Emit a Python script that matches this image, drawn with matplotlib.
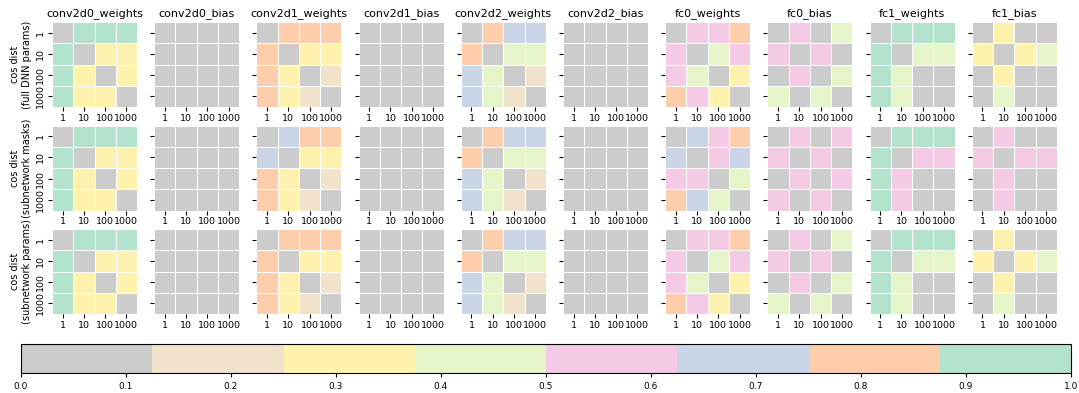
import numpy as np
import matplotlib
matplotlib.use("Agg")
import matplotlib.pyplot as plt
from matplotlib.colors import ListedColormap

layers = ["conv2d0_weights", "conv2d0_bias", "conv2d1_weights", "conv2d1_bias",
          "conv2d2_weights", "conv2d2_bias", "fc0_weights", "fc0_bias",
          "fc1_weights", "fc1_bias"]
row_labels = ["cos dist\n(full DNN params)", "cos dist\n(subnetwork masks)",
              "cos dist\n(subnetwork params)"]
tick_labels = ["1", "10", "100", "1000"]

zeros4 = [[0.0, 0.05, 0.05, 0.05], [0.05, 0.0, 0.05, 0.05],
          [0.05, 0.05, 0.0, 0.05], [0.05, 0.05, 0.05, 0.0]]

# row 0: full DNN params
full_conv2d0_w = [[0.0, 0.94, 0.94, 0.94], [0.94, 0.0, 0.31, 0.31], [0.94, 0.31, 0.0, 0.31], [0.94, 0.31, 0.31, 0.0]]
full_conv2d1_w = [[0.0, 0.81, 0.81, 0.81], [0.81, 0.0, 0.31, 0.31], [0.81, 0.31, 0.0, 0.19], [0.81, 0.31, 0.19, 0.0]]
full_conv2d2_w = [[0.0, 0.81, 0.69, 0.69], [0.81, 0.0, 0.44, 0.44], [0.69, 0.44, 0.0, 0.19], [0.69, 0.44, 0.19, 0.0]]
full_fc0_w = [[0.0, 0.56, 0.56, 0.81], [0.56, 0.0, 0.44, 0.56], [0.56, 0.44, 0.0, 0.31], [0.81, 0.56, 0.31, 0.0]]
full_fc0_b = [[0.0, 0.56, 0.08, 0.44], [0.56, 0.0, 0.56, 0.08], [0.08, 0.56, 0.0, 0.44], [0.44, 0.08, 0.44, 0.0]]
full_fc1_w = [[0.0, 0.94, 0.94, 0.94], [0.94, 0.0, 0.44, 0.44], [0.94, 0.44, 0.0, 0.08], [0.94, 0.44, 0.08, 0.0]]
full_fc1_b = [[0.0, 0.31, 0.08, 0.08], [0.31, 0.0, 0.31, 0.44], [0.08, 0.31, 0.0, 0.08], [0.08, 0.44, 0.08, 0.0]]

# row 1: subnetwork masks
mask_conv2d0_w = [[0.0, 0.94, 0.94, 0.94], [0.94, 0.0, 0.31, 0.31], [0.94, 0.31, 0.0, 0.31], [0.94, 0.31, 0.31, 0.0]]
mask_conv2d1_w = [[0.0, 0.69, 0.81, 0.81], [0.69, 0.0, 0.31, 0.31], [0.81, 0.31, 0.0, 0.19], [0.81, 0.31, 0.19, 0.0]]
mask_conv2d2_w = [[0.0, 0.81, 0.69, 0.69], [0.81, 0.0, 0.44, 0.44], [0.69, 0.44, 0.0, 0.19], [0.69, 0.44, 0.19, 0.0]]
mask_fc0_w = [[0.0, 0.69, 0.56, 0.81], [0.69, 0.0, 0.56, 0.69], [0.56, 0.56, 0.0, 0.44], [0.81, 0.69, 0.44, 0.0]]
mask_fc0_b = [[0.0, 0.56, 0.08, 0.56], [0.56, 0.0, 0.56, 0.08], [0.08, 0.56, 0.0, 0.56], [0.56, 0.08, 0.56, 0.0]]
mask_fc1_w = [[0.0, 0.94, 0.94, 0.94], [0.94, 0.0, 0.56, 0.56], [0.94, 0.56, 0.0, 0.08], [0.94, 0.56, 0.08, 0.0]]
mask_fc1_b = [[0.0, 0.56, 0.08, 0.08], [0.56, 0.0, 0.56, 0.56], [0.08, 0.56, 0.0, 0.08], [0.08, 0.56, 0.08, 0.0]]

# row 2: subnetwork params
sub_conv2d0_w = [[0.0, 0.94, 0.94, 0.94], [0.94, 0.0, 0.31, 0.31], [0.94, 0.31, 0.0, 0.31], [0.94, 0.31, 0.31, 0.0]]
sub_conv2d1_w = [[0.0, 0.81, 0.81, 0.81], [0.81, 0.0, 0.31, 0.31], [0.81, 0.31, 0.0, 0.19], [0.81, 0.31, 0.19, 0.0]]
sub_conv2d2_w = [[0.0, 0.81, 0.69, 0.69], [0.81, 0.0, 0.44, 0.44], [0.69, 0.44, 0.0, 0.19], [0.69, 0.44, 0.19, 0.0]]
sub_fc0_w = [[0.0, 0.56, 0.56, 0.81], [0.56, 0.0, 0.44, 0.56], [0.56, 0.44, 0.0, 0.31], [0.81, 0.56, 0.31, 0.0]]
sub_fc0_b = [[0.0, 0.56, 0.08, 0.44], [0.56, 0.0, 0.56, 0.08], [0.08, 0.56, 0.0, 0.44], [0.44, 0.08, 0.44, 0.0]]
sub_fc1_w = [[0.0, 0.94, 0.94, 0.94], [0.94, 0.0, 0.44, 0.44], [0.94, 0.44, 0.0, 0.08], [0.94, 0.44, 0.08, 0.0]]
sub_fc1_b = [[0.0, 0.31, 0.08, 0.08], [0.31, 0.0, 0.31, 0.44], [0.08, 0.31, 0.0, 0.08], [0.08, 0.44, 0.08, 0.0]]

grid = [
    [full_conv2d0_w, zeros4, full_conv2d1_w, zeros4, full_conv2d2_w, zeros4, full_fc0_w, full_fc0_b, full_fc1_w, full_fc1_b],
    [mask_conv2d0_w, zeros4, mask_conv2d1_w, zeros4, mask_conv2d2_w, zeros4, mask_fc0_w, mask_fc0_b, mask_fc1_w, mask_fc1_b],
    [sub_conv2d0_w, zeros4, sub_conv2d1_w, zeros4, sub_conv2d2_w, zeros4, sub_fc0_w, sub_fc0_b, sub_fc1_w, sub_fc1_b],
]

W, H = 1079, 393
fig = plt.figure(figsize=(W / 100, H / 100), dpi=100)
cmap = ListedColormap(plt.get_cmap("Pastel2_r").colors)

def px_axes(left, top, w, h):
    return fig.add_axes([left / W, (H - top - h) / H, w / W, h / H])

x0, dx, size = 52, 102.2, 85
tops = [22, 125.5, 229]
mesh = None
for r in range(3):
    for c in range(10):
        ax = px_axes(x0 + dx * c, tops[r], size, size)
        data = np.array(grid[r][c])
        mesh = ax.pcolormesh(data, cmap=cmap, vmin=0, vmax=1,
                             edgecolors="white", linewidth=0.6)
        ax.set_xlim(0, 4)
        ax.set_ylim(4, 0)
        for s in ax.spines.values():
            s.set_visible(False)
        ax.set_xticks(np.arange(4) + 0.5)
        ax.set_xticklabels(tick_labels, fontsize=6.8)
        ax.set_yticks(np.arange(4) + 0.5)
        ax.tick_params(length=3, width=0.8, pad=2)
        if c == 0:
            ax.set_yticklabels(tick_labels, fontsize=6.8, rotation=90, va="center")
            ax.set_ylabel(row_labels[r], fontsize=7, labelpad=3)
        else:
            ax.set_yticklabels([])
        if r == 0:
            ax.set_title(layers[c], fontsize=8, pad=4)

cax = px_axes(21, 344, 1050, 29)
cb = fig.colorbar(mesh, cax=cax, orientation="horizontal")
cb.set_ticks(np.linspace(0, 1, 11))
cb.ax.tick_params(labelsize=6.5, length=3, width=0.8)
cb.outline.set_linewidth(0.8)

fig.savefig("out.png", dpi=100)
